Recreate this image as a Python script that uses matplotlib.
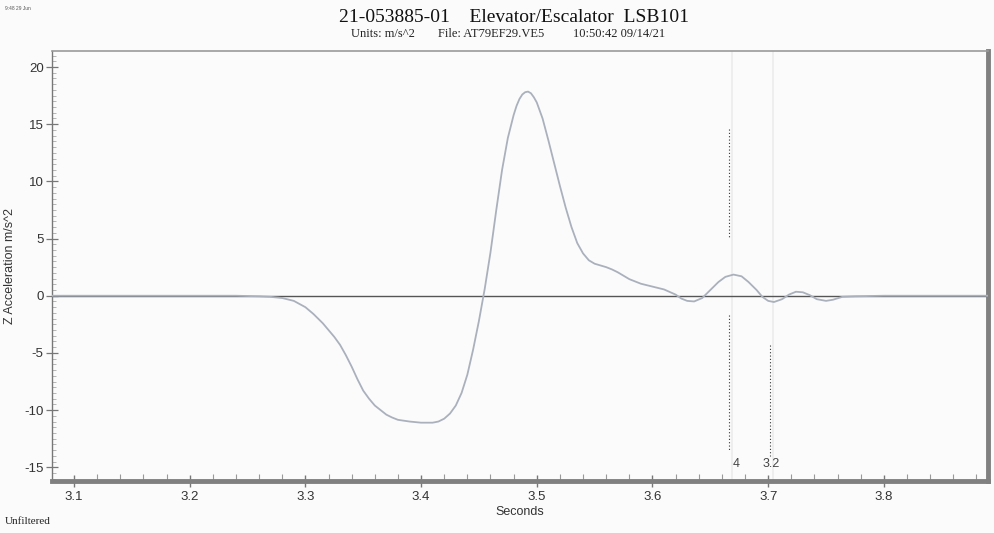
import matplotlib
matplotlib.use("Agg")
import matplotlib.pyplot as plt
from matplotlib.ticker import MultipleLocator

# ---- data ----
time_s = [3.081, 3.20, 3.24, 3.26, 3.27, 3.28, 3.29, 3.30, 3.307, 3.315, 3.32, 3.325,
          3.33, 3.335, 3.34, 3.345, 3.35, 3.355, 3.36, 3.365, 3.37, 3.375, 3.38, 3.39,
          3.40, 3.41, 3.415, 3.42, 3.425, 3.43, 3.435, 3.44, 3.445, 3.45, 3.455, 3.46,
          3.465, 3.47, 3.475, 3.48, 3.4825, 3.485, 3.4875, 3.49, 3.4925, 3.495, 3.4975,
          3.50, 3.505, 3.51, 3.515, 3.52, 3.525, 3.53, 3.535, 3.54, 3.545, 3.55, 3.56,
          3.565, 3.57, 3.575, 3.58, 3.59, 3.60, 3.61, 3.62, 3.625, 3.63, 3.636, 3.643,
          3.65, 3.657, 3.663, 3.67, 3.677, 3.683, 3.69, 3.695, 3.70, 3.705, 3.712, 3.718,
          3.724, 3.73, 3.736, 3.742, 3.75, 3.756, 3.764, 3.775, 3.80, 3.89]
z_accel = [0, 0, 0, -0.05, -0.1, -0.2, -0.45, -1.0, -1.6, -2.4, -3.0, -3.6,
           -4.3, -5.2, -6.2, -7.3, -8.3, -9.0, -9.6, -10.0, -10.4, -10.65, -10.85, -11.0,
           -11.1, -11.1, -11.0, -10.75, -10.3, -9.6, -8.5, -6.9, -4.7, -2.2, 0.6, 3.8,
           7.5, 11.0, 13.8, 15.8, 16.6, 17.2, 17.6, 17.8, 17.85, 17.7, 17.35,
           16.9, 15.5, 13.6, 11.6, 9.6, 7.7, 6.0, 4.6, 3.7, 3.1, 2.8, 2.5,
           2.3, 2.05, 1.75, 1.45, 1.05, 0.8, 0.55, 0.1, -0.25, -0.45, -0.5, -0.2,
           0.5, 1.2, 1.65, 1.85, 1.7, 1.2, 0.5, -0.1, -0.45, -0.55, -0.3, 0.1,
           0.35, 0.3, 0.05, -0.3, -0.45, -0.35, -0.1, -0.05, 0, 0]

cursor_x = [3.666, 3.7015]
cursor_labels = ["4", "3.2"]
x_ticks = [3.1, 3.2, 3.3, 3.4, 3.5, 3.6, 3.7, 3.8]
y_ticks = [-15, -10, -5, 0, 5, 10, 15, 20]

title = "21-053885-01    Elevator/Escalator  LSB101"
subtitle_parts = ["Units: m/s^2", "File: AT79EF29.VE5", "10:50:42 09/14/21"]

bg = "#fbfbfb"
fig = plt.figure(figsize=(9.95, 5.33), dpi=100, facecolor=bg)
ax = fig.add_axes([52/995, 1-481/533, (988-52)/995, (481-51)/533], facecolor=bg)

ax.set_xlim(3.081, 3.890)
ax.set_ylim(-16.2, 21.4)

# zero line
ax.axhline(0, color="#555555", lw=1.0, zorder=2)

# faint cursor guide lines
for cx in cursor_x:
    ax.axvline(cx + 0.003, color="#ececec", lw=1.2, zorder=1)

# curve
ax.plot(time_s, z_accel, color="#aab1bd", lw=1.3, zorder=3, solid_capstyle="round",
        solid_joinstyle="round")

# dotted cursor segments
ax.plot([cursor_x[0]]*2, [14.6, 5.0], color="#333333", lw=0.8, ls=(0, (1, 2)), zorder=4)
ax.plot([cursor_x[0]]*2, [-1.7, -13.5], color="#333333", lw=0.8, ls=(0, (1, 2)), zorder=4)
ax.plot([cursor_x[1]]*2, [-4.3, -14.0], color="#333333", lw=0.8, ls=(0, (1, 2)), zorder=4)
ax.text(cursor_x[0] + 0.006, -14.7, cursor_labels[0], fontsize=9, color="#444444",
        family="Liberation Sans", ha="center", va="center")
ax.text(cursor_x[1] + 0.001, -14.7, cursor_labels[1], fontsize=9, color="#444444",
        family="Liberation Sans", ha="center", va="center")

# spines
ax.spines["left"].set_color("#777777")
ax.spines["left"].set_linewidth(1.0)
ax.spines["top"].set_color("#9a9a9a")
ax.spines["top"].set_linewidth(1.2)
ax.spines["right"].set_color("#808080")
ax.spines["right"].set_linewidth(3.5)
ax.spines["bottom"].set_color("#808080")
ax.spines["bottom"].set_linewidth(3.5)

ax.set_xticks(x_ticks)
ax.set_xticklabels([f"{v:.1f}" for v in x_ticks])
ax.set_yticks(y_ticks)
ax.set_yticklabels([str(v) for v in y_ticks])
ax.xaxis.set_minor_locator(MultipleLocator(0.02))
ax.yaxis.set_minor_locator(MultipleLocator(0.5))
ax.tick_params(axis="x", which="major", direction="inout", length=9, width=1.0,
               color="#777777", labelsize=9.5, labelcolor="#333333", pad=3)
ax.tick_params(axis="x", which="minor", direction="in", length=5, width=0.8, color="#999999")
ax.tick_params(axis="y", which="major", direction="inout", length=8, width=0.9,
               color="#777777", labelsize=9.5, labelcolor="#333333", pad=2)
ax.tick_params(axis="y", which="minor", direction="in", length=3, width=0.6, color="#aaaaaa")
for lab in ax.get_xticklabels() + ax.get_yticklabels():
    lab.set_family("Liberation Sans")

ax.set_xlabel("Seconds", family="Liberation Sans", fontsize=9, color="#333333", labelpad=2)
ax.set_ylabel("Z Acceleration m/s^2", family="Liberation Sans", fontsize=9, color="#333333",
              labelpad=6)

# titles
fig.text(514/995, 1-18/533, title, family="Liberation Serif", fontsize=14,
         ha="center", va="center", color="#111111")
fig.text(351/995, 1-34/533, subtitle_parts[0], family="Liberation Serif", fontsize=9,
         ha="left", va="center", color="#222222")
fig.text(438/995, 1-34/533, subtitle_parts[1], family="Liberation Serif", fontsize=9,
         ha="left", va="center", color="#222222")
fig.text(573/995, 1-34/533, subtitle_parts[2], family="Liberation Serif", fontsize=9,
         ha="left", va="center", color="#222222")
fig.text(5/995, 1-8/533, "9:48 29 Jun", family="Liberation Sans", fontsize=3.5,
         ha="left", va="center", color="#555555")
fig.text(5/995, 1-522/533, "Unfiltered", family="Liberation Serif", fontsize=8,
         ha="left", va="center", color="#222222")

fig.savefig("out.png", dpi=100, facecolor=bg)
